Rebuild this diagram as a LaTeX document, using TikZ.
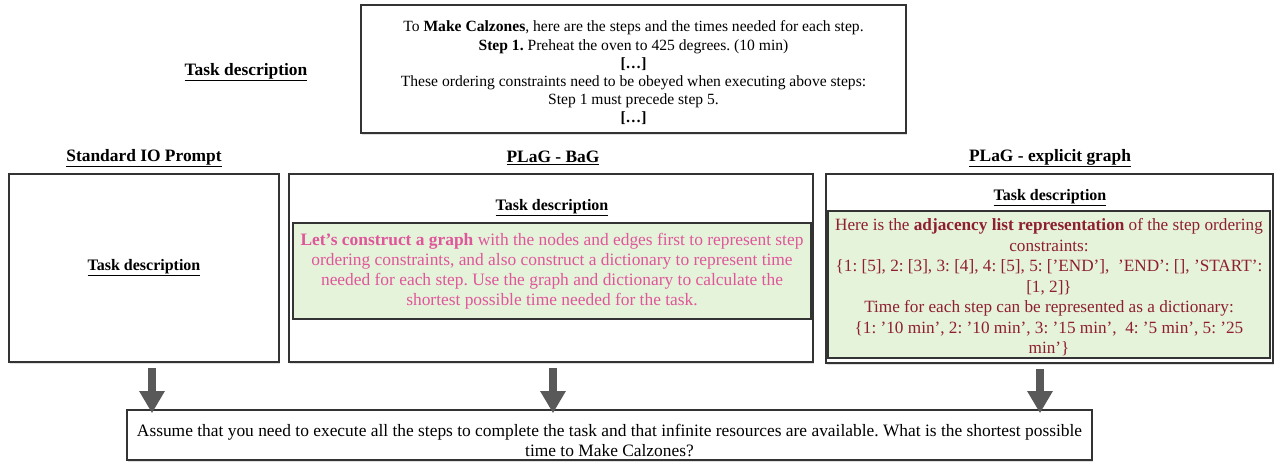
\documentclass[tikz,border=0pt]{standalone}
\usepackage{fontspec}
\setmainfont{Liberation Serif}
\usetikzlibrary{positioning,arrows.meta,shadows}
\definecolor{boxline}{HTML}{333333}
\definecolor{arrowgray}{HTML}{595959}
\definecolor{palegreen}{HTML}{E5F3DA}
\definecolor{bagpink}{HTML}{E0569B}
\definecolor{graphred}{HTML}{8E1F30}
\tikzset{
  promptbox/.style={draw=boxline,line width=1.6pt,fill=white,drop shadow={opacity=0.25,shadow xshift=1pt,shadow yshift=-1.5pt},inner sep=0pt,align=center},
  greenbox/.style={draw=boxline,line width=1.4pt,fill=palegreen,inner sep=0pt,align=center},
  boxtext/.style={inner sep=0pt,align=center},
  heading/.style={font=\fontsize{17.4}{20}\selectfont\bfseries},
  subheading/.style={font=\fontsize{16}{18}\selectfont\bfseries},
  bigarrow/.style={draw=arrowgray,line width=8pt,-{Triangle[width=24pt,length=22pt]}}
}
\newcommand{\ul}[1]{\underline{#1}}
\frenchspacing
\begin{document}
\begin{tikzpicture}[x=1pt,y=-1pt]
\useasboundingbox (0,0) rectangle (1278,461);

% task description at the top
\node[promptbox,minimum width=545pt,minimum height=128pt] (task) at (633.5,69) {};
\node[boxtext,font=\fontsize{15.6}{18.2}\selectfont] (tasktext) at ([yshift=-4pt]task.center)
  {To \textbf{Make Calzones}, here are the steps and the times needed for each step.\\
   \textbf{Step 1.} Preheat the oven to 425 degrees. (10 min)\\
   \textbf{[\ldots]}\\
   These ordering constraints need to be obeyed when executing above steps:\\
   Step 1 must precede step 5.\\
   \textbf{[\ldots]}};
\node[heading] (tasklabel) at (246,72) {\ul{Task description}};

% three prompt styles
\node[heading] (iohead) at (144,158) {\ul{Standard IO Prompt}};
\node[heading] (baghead) at (553,158) {\ul{PLaG - BaG}};
\node[heading] (exphead) at (1050,158) {\ul{PLaG - explicit graph}};

\node[promptbox,minimum width=270pt,minimum height=188pt] (iobox) at (144,268) {};
\node[promptbox,minimum width=524pt,minimum height=188pt] (bagbox) at (551,268) {};
\node[promptbox,minimum width=447pt,minimum height=189pt] (expbox) at (1049.5,268.5) {};

\node[subheading] (iotask) at (iobox.center) {\ul{Task description}};
\node[subheading] (bagtask) at (552,208) {\ul{Task description}};
\node[subheading] (exptask) at (1050,198) {\ul{Task description}};

\node[greenbox,minimum width=518pt,minimum height=96pt,text=bagpink,font=\fontsize{17.4}{20}\selectfont] (bagtext) at (552,271)
  {\textbf{Let’s construct a graph} with the nodes and edges first to represent step\\
   ordering constraints, and also construct a dictionary to represent time\\
   needed for each step. Use the graph and dictionary to calculate the\\
   shortest possible time needed for the task.};
\node[greenbox,minimum width=442pt,minimum height=147pt] (expgreen) at (1049,284.5) {};
\node[boxtext,text=graphred,font=\fontsize{17.2}{20.5}\selectfont] (exptext) at ([yshift=-3pt]expgreen.center)
  {Here is the \textbf{adjacency list representation} of the step ordering\\
   constraints:\\
   \{1: [5], 2: [3], 3: [4], 4: [5], 5: [’END’], \ ’END’: [], ’START’:\\
   {[}1, 2]\}\\
   Time for each step can be represented as a dictionary:\\
   \{1: ’10 min’, 2: ’10 min’, 3: ’15 min’, \ 4: ’5 min’, 5: ’25\\
   min’\}};

% shared question
\node[promptbox,minimum width=965pt,minimum height=50pt] (query) at (609.5,435) {};
\node[boxtext,font=\fontsize{17.4}{20}\selectfont] (querytext) at ([yshift=-5pt]query.center)
  {Assume that you need to execute all the steps to complete the task and that infinite resources are available. What is the shortest possible\\
   time to Make Calzones?};

\draw[bigarrow] ([xshift=8pt,yshift=-5pt]iobox.south) -- ([xshift=8pt,yshift=-4pt]iobox.south |- query.north);
\draw[bigarrow] ([xshift=2pt,yshift=-5pt]bagbox.south) -- ([xshift=2pt,yshift=-4pt]bagbox.south |- query.north);
\draw[bigarrow] ([xshift=-9.5pt,yshift=-5pt]expbox.south) -- ([xshift=-9.5pt,yshift=-4pt]expbox.south |- query.north);
\end{tikzpicture}
\end{document}
